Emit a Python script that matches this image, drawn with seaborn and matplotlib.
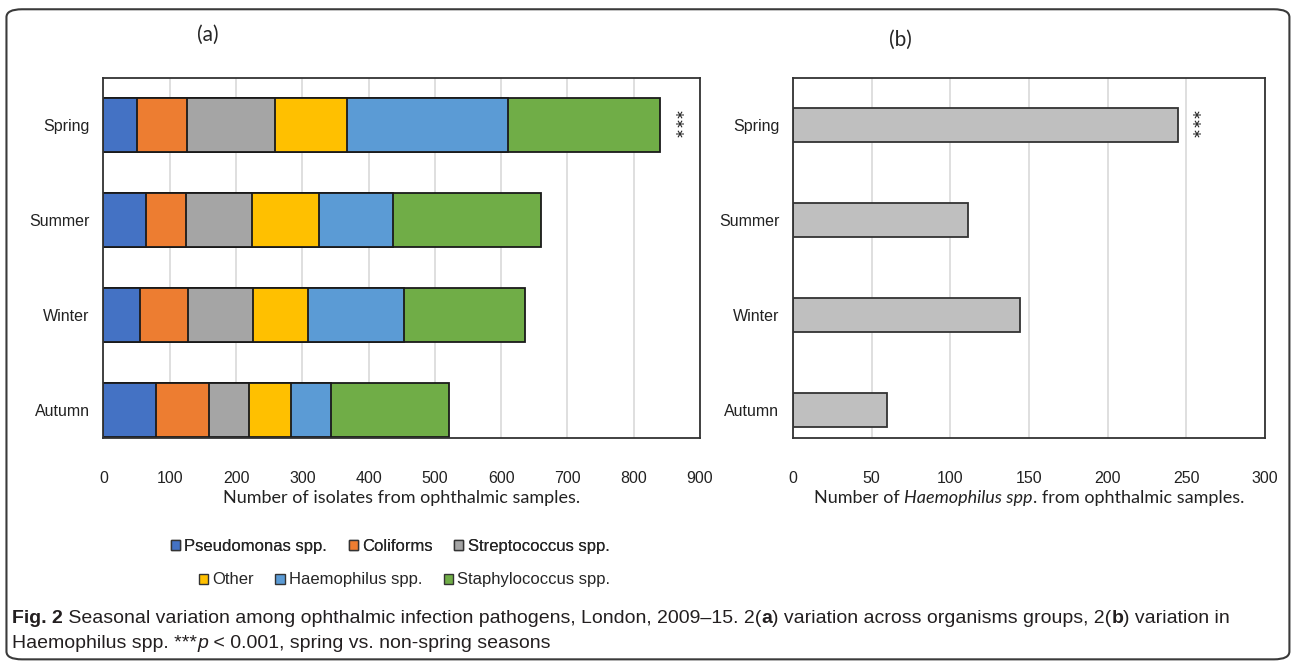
import numpy as np
import pandas as pd
import matplotlib
matplotlib.use("Agg")
import matplotlib.pyplot as plt
import seaborn as sns
from matplotlib.patches import FancyBboxPatch, Patch

seasons = ["Spring", "Summer", "Winter", "Autumn"]
organisms = ["Pseudomonas spp.", "Coliforms", "Streptococcus spp.",
             "Other", "Haemophilus spp.", "Staphylococcus spp."]
pseudomonas = [51, 64, 55, 79]
coliforms = [75, 60, 73, 80]
streptococcus = [133, 100, 98, 60]
other = [109, 101, 82, 64]
haemophilus = [243, 112, 145, 60]
staphylococcus = [228, 223, 183, 178]
haemophilus_b = [245, 111, 144, 60]
colors = ["#4472C4", "#ED7D31", "#A5A5A5", "#FFC000", "#5B9BD5", "#70AD47"]

sns.set_theme(style="white")
plt.rcParams["font.family"] = ["Liberation Sans", "DejaVu Sans"]

df = pd.DataFrame({
    organisms[0]: pseudomonas,
    organisms[1]: coliforms,
    organisms[2]: streptococcus,
    organisms[3]: other,
    organisms[4]: haemophilus,
    organisms[5]: staphylococcus,
}, index=seasons)
cum = df.cumsum(axis=1)

fig = plt.figure(figsize=(12.92, 6.62), dpi=100)
ax1 = fig.add_axes([0.0801, 0.3384, 0.4617, 0.5438])
ax2 = fig.add_axes([0.6138, 0.3384, 0.3653, 0.5438])

# stacked bars: draw cumulative totals from the largest down
for org, col in reversed(list(zip(organisms, colors))):
    sns.barplot(x=cum[org].values, y=seasons, orient="h", color=col, saturation=1,
                width=0.57, edgecolor="#1a1a1a", linewidth=1.3, ax=ax1)

sns.barplot(x=haemophilus_b, y=seasons, orient="h", color="#BFBFBF", saturation=1,
            width=0.36, edgecolor="#333333", linewidth=1.3, ax=ax2)

label_font = ["Lato", "DejaVu Sans"]
for ax, xmax, step in [(ax1, 900, 100), (ax2, 300, 50)]:
    ax.set_xlim(0, xmax)
    ax.set_ylim(3.3, -0.5)
    ax.set_xticks(np.arange(0, xmax + 1, step))
    ax.xaxis.grid(True, color="#d9d9d9", linewidth=1.2)
    ax.set_axisbelow(True)
    ax.tick_params(axis="both", length=0, labelsize=11.5, colors="#222222")
    ax.tick_params(axis="x", pad=24)
    ax.tick_params(axis="y", pad=10)
    ax.set_ylabel("")
    ax.set_xlabel("")
    for s in ax.spines.values():
        s.set_visible(True)
        s.set_color("#333333")
        s.set_linewidth(1.3)

ax1.text(857, 0, "***", rotation=-90, ha="center", va="center", fontsize=17,
         family=label_font, color="#222222")
ax2.text(251, 0, "***", rotation=-90, ha="center", va="center", fontsize=17,
         family=label_font, color="#222222")

fig.text(0.161, 0.947, "(a)", fontsize=15, ha="center", va="center", family=label_font)
fig.text(0.6966, 0.94, "(b)", fontsize=15, ha="center", va="center", family=label_font)

handles = [Patch(facecolor=c, edgecolor="#333333", linewidth=1) for c in colors]
legend_kw = dict(loc="center", ncol=3, frameon=False, fontsize=12, handlelength=0.55,
                 handleheight=0.55, handletextpad=0.25, columnspacing=1.3)
leg1 = fig.legend(handles[:3], organisms[:3], bbox_to_anchor=(0.302, 0.1752), **legend_kw)
fig.add_artist(leg1)
fig.legend(handles[3:], organisms[3:], bbox_to_anchor=(0.313, 0.1239), **legend_kw)

renderer = fig.canvas.get_renderer()


def rich_line(x, y, pieces, size=13, family=None, color="#231f20", center=False):
    texts = []
    for txt, kw in pieces:
        t = fig.text(x, y, txt, fontsize=size, va="baseline", family=family,
                     color=color, **kw)
        bb = t.get_window_extent(renderer=renderer)
        x += bb.width / fig.bbox.width
        texts.append(t)
    if center:
        shift = (x - texts[0].get_position()[0]) / 2
        for t in texts:
            px, py = t.get_position()
            t.set_position((px - shift, py))


# x axis labels
rich_line(0.3109, 0.2395, [("Number of isolates from ophthalmic samples.", {})],
          size=13, family=label_font, color="#222222", center=True)
rich_line(0.7965, 0.2395, [
    ("Number of ", {}),
    ("Haemophilus spp", dict(style="italic")),
    (". from ophthalmic samples.", {}),
], size=13, family=label_font, color="#222222", center=True)

# caption with mixed styles
cap_font = ["Liberation Sans", "DejaVu Sans"]
rich_line(0.0093, 0.059, [
    ("Fig. 2", dict(weight="bold")),
    (" Seasonal variation among ophthalmic infection pathogens, London, 2009\u201315. 2(", {}),
    ("a", dict(weight="bold")),
    (") variation across organisms groups, 2(", {}),
    ("b", dict(weight="bold")),
    (") variation in", {}),
], size=14, family=cap_font)
rich_line(0.0093, 0.021, [
    ("Haemophilus spp. ***", {}),
    ("p", dict(style="italic")),
    (" < 0.001, spring vs. non-spring seasons", {}),
], size=14, family=cap_font)

border = FancyBboxPatch((0.005, 0.004), 0.993, 0.982, transform=fig.transFigure,
                        boxstyle="round,pad=0,rounding_size=0.012", facecolor="none",
                        edgecolor="#3a3a3a", linewidth=1.5)
fig.add_artist(border)

fig.savefig("out.png", dpi=100)
plt.close(fig)
